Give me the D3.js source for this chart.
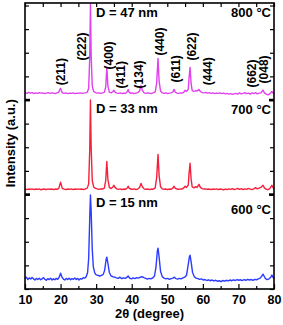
<!DOCTYPE html>
<html>
<head>
<meta charset="utf-8">
<script src="https://cdn.jsdelivr.net/npm/d3@7"></script>
<style>
  body { margin: 0; background: #fff; }
  text { font-family: "Liberation Sans", Arial, sans-serif; font-weight: bold; }
</style>
</head>
<body>
<div class="vis-holder"></div>
<script>
const width = 283;
const height = 325;

// 2theta (degree) vs intensity (a.u.) above the bottom of each panel
const xrd600 = [[10,44],[10.4,50],[10.8,40],[11.2,47],[11.6,42],[12,49],[12.4,43],[12.8,38],[13.2,45],[13.6,40],[14,46],[14.4,39],[14.8,43],[15.2,48],[15.6,41],[16,37],[16.4,44],[16.8,40],[17.2,46],[17.6,38],[18,43],[18.4,39],[18.8,45],[19.2,41],[19.6,50],[20,67],[20.4,50],[20.8,42],[21.2,38],[21.6,45],[22,40],[22.4,46],[22.8,39],[23.2,44],[23.6,41],[24,47],[24.4,40],[24.8,45],[25.2,38],[25.6,44],[26,42],[26.4,48],[26.8,46],[27.2,52],[27.6,70],[27.9,130],[28.2,300],[28.4,398],[28.6,330],[28.9,170],[29.2,95],[29.6,68],[30,60],[30.5,58],[31,55],[31.5,58],[32,62],[32.4,80],[32.8,125],[33,135],[33.3,110],[33.7,70],[34.2,55],[34.7,52],[35.2,50],[35.7,47],[36.2,45],[36.7,50],[37.2,44],[37.7,47],[38.2,45],[38.7,50],[39,55],[39.4,46],[39.9,43],[40.4,47],[40.9,44],[41.4,48],[41.9,46],[42.4,50],[42.9,52],[43.4,48],[43.9,45],[44.4,42],[44.9,45],[45.4,43],[45.9,47],[46.4,55],[46.8,90],[47.2,160],[47.4,173],[47.7,135],[48.1,75],[48.6,52],[49.1,46],[49.6,43],[50.1,45],[50.6,41],[51.1,44],[51.6,46],[52,50],[52.4,44],[52.9,42],[53.4,45],[53.9,43],[54.4,47],[54.9,50],[55.4,58],[55.8,95],[56.2,135],[56.4,143],[56.7,115],[57.1,70],[57.6,52],[58.1,46],[58.6,44],[59.1,41],[59.6,43],[60.1,38],[60.6,40],[61.1,36],[61.6,39],[62.1,35],[62.6,38],[63.1,34],[63.6,37],[64.1,33],[64.6,35],[65.1,31],[65.6,36],[66.1,33],[66.6,37],[67.1,34],[67.6,38],[68.1,35],[68.6,39],[69.1,36],[69.6,40],[70.1,37],[70.6,39],[71.1,36],[71.6,40],[72.1,37],[72.6,41],[73.1,38],[73.6,40],[74.1,37],[74.6,41],[75.1,39],[75.6,43],[76.1,46],[76.6,55],[76.9,63],[77.2,55],[77.6,44],[78.1,40],[78.6,43],[79.1,50],[79.4,59],[79.7,50],[80,45]];

const xrd700 = [[10,24],[10.5,21],[11,23],[11.5,22],[12,24],[12.5,21],[13,23],[13.5,22],[14,24],[14.5,20],[15,23],[15.5,22],[16,21],[16.5,24],[17,22],[17.5,23],[18,21],[18.5,23],[19,22],[19.5,26],[19.8,42],[20,52],[20.2,40],[20.5,26],[21,23],[21.5,21],[22,23],[22.5,22],[23,24],[23.5,21],[24,23],[24.5,22],[25,24],[25.5,22],[26,23],[26.5,21],[27,24],[27.5,27],[27.9,45],[28.2,190],[28.4,400],[28.6,200],[28.9,60],[29.3,32],[29.8,26],[30.3,24],[30.8,22],[31.3,24],[31.8,23],[32.3,27],[32.7,60],[33,140],[33.3,65],[33.7,30],[34.2,25],[34.7,32],[35,39],[35.3,30],[35.8,24],[36.3,22],[36.8,24],[37.3,21],[37.8,23],[38.3,22],[38.8,29],[39,35],[39.2,28],[39.7,23],[40.2,22],[40.7,24],[41.2,21],[41.7,23],[42.2,30],[42.6,47],[43,33],[43.5,24],[44,22],[44.5,23],[45,21],[45.5,23],[46,22],[46.6,28],[47,70],[47.4,170],[47.7,80],[48.1,33],[48.6,24],[49.1,22],[49.6,23],[50.1,21],[50.6,23],[51.1,22],[51.6,28],[51.9,35],[52.2,27],[52.7,23],[53.2,22],[53.7,24],[54.2,23],[54.7,29],[55,35],[55.4,30],[55.9,40],[56.1,85],[56.4,132],[56.7,65],[57,32],[57.5,28],[58,33],[58.4,30],[58.9,43],[59.3,30],[59.8,25],[60.3,23],[60.8,24],[61.3,22],[61.8,23],[62.3,21],[62.8,23],[63.3,22],[63.8,24],[64.3,21],[64.8,23],[65.3,22],[65.8,20],[66.3,23],[66.8,21],[67.3,24],[67.8,22],[68.3,25],[68.8,21],[69.3,23],[69.8,26],[70.3,22],[70.8,25],[71.3,21],[71.8,24],[72.3,22],[72.8,26],[73.3,23],[73.8,21],[74.3,24],[74.8,29],[75.3,24],[75.8,27],[76.3,30],[76.9,39],[77.3,28],[77.8,23],[78.3,20],[78.8,25],[79.4,39],[79.7,30],[80,24]];

const xrd800 = [[10,31],[10.5,28],[11,32],[11.5,29],[12,31],[12.5,27],[13,30],[13.5,28],[14,31],[14.5,29],[15,30],[15.5,27],[16,29],[16.5,31],[17,28],[17.5,30],[18,29],[18.5,27],[19,30],[19.5,33],[19.8,45],[20,49],[20.2,40],[20.5,30],[21,28],[21.5,30],[22,27],[22.5,29],[23,28],[23.5,30],[24,27],[24.5,29],[25,28],[25.5,30],[26,28],[26.5,29],[27,30],[27.5,33],[27.9,50],[28.2,180],[28.4,405],[28.6,190],[28.9,60],[29.3,36],[29.8,31],[30.3,29],[30.8,30],[31.3,28],[31.8,30],[32.3,32],[32.7,55],[33,138],[33.3,60],[33.7,33],[34.2,30],[34.7,36],[35,41],[35.3,33],[35.8,29],[36.3,28],[36.8,30],[37.3,27],[37.8,29],[38.3,28],[38.8,36],[39,45],[39.2,35],[39.7,28],[40.2,30],[40.7,27],[41.2,29],[41.7,31],[42.2,38],[42.6,62],[43,40],[43.5,30],[44,28],[44.5,30],[45,29],[45.5,27],[46,30],[46.6,34],[47,70],[47.4,176],[47.7,80],[48.1,38],[48.6,30],[49.1,28],[49.6,30],[50.1,27],[50.6,29],[51.1,30],[51.6,35],[51.9,45],[52.2,34],[52.7,29],[53.2,28],[53.7,30],[54.2,29],[54.7,34],[55,41],[55.4,36],[55.9,45],[56.1,90],[56.4,138],[56.7,70],[57,40],[57.5,36],[58,40],[58.4,38],[58.9,45],[59.3,36],[59.8,31],[60.3,30],[60.8,32],[61.3,29],[61.8,31],[62.3,28],[62.8,30],[63.3,27],[63.8,29],[64.3,28],[64.8,30],[65.3,27],[65.8,29],[66.3,26],[66.8,28],[67.3,25],[67.8,27],[68.3,24],[68.8,26],[69.3,28],[69.8,25],[70.3,30],[70.8,26],[71.3,28],[71.8,31],[72.3,27],[72.8,29],[73.3,25],[73.8,30],[74.3,27],[74.8,31],[75.3,26],[75.8,29],[76.3,30],[76.9,42],[77.3,30],[77.8,25],[78.3,22],[78.8,26],[79.4,36],[79.7,30],[80,26]];

const temps = ["600 °C", "700 °C", "800 °C"];
const sizes = ["D = 15 nm", "D = 33 nm", "D = 47 nm"];
const colors = ["#2b3bff", "#f5203c", "#e040ee"];

// Miller indices on the 800 °C pattern: label, 2theta, height where the label starts
const hklLabels = ["(211)", "(222)", "(400)", "(411)", "(134)", "(440)", "(611)", "(622)", "(444)", "(662)", "(048)"];
const hklPos = [19.9, 25.8, 33.4, 36.9, 42.1, 48.0, 52.5, 56.8, 61.3, 73.7, 77.0];
const hklHeight = [62, 167, 129, 49, 49, 188, 74, 167, 62, 53, 70];

const xTicks = [10, 20, 30, 40, 50, 60, 70, 80];
const xMinor = [15, 25, 35, 45, 55, 65, 75];

const panel = 400;
const series = [xrd600, xrd700, xrd800];

const margin = {left: 25, right: 9, top: 5.5, bottom: 36};

const svg = d3.select(".vis-holder").append("svg")
    .attr("width", width)
    .attr("height", height);

const x = d3.scaleLinear().domain([10, 80]).range([margin.left, width - margin.right]);
const y = d3.scaleLinear().domain([0, panel * 3]).range([height - margin.bottom, margin.top]);

const line = d3.line()
    .x(d => x(d[0]))
    .y(d => y(d[1]));

series.forEach(function(data, i) {
    svg.append("path")
        .datum(data.map(d => [d[0], d[1] + i * panel]))
        .attr("d", line)
        .attr("fill", "none")
        .attr("stroke", colors[i])
        .attr("stroke-width", 1.4)
        .attr("stroke-linejoin", "round");
});

// axes, ticks pointing inwards
const x0 = x.range()[0], x1 = x.range()[1];
const y0 = y.range()[0], y1 = y.range()[1];

const bottom = svg.append("g")
    .attr("transform", `translate(0,${y0})`)
    .call(d3.axisBottom(x).tickValues(xTicks).tickSize(-5).tickPadding(6));
svg.append("g")
    .attr("transform", `translate(0,${y0})`)
    .call(d3.axisBottom(x).tickValues(xMinor).tickSize(-3).tickFormat(""));
svg.append("g")
    .attr("transform", `translate(0,${y1 - 2.5})`)
    .call(d3.axisTop(x).tickValues(xTicks.concat(xMinor)).tickSize(-4).tickFormat(""));
svg.append("g")
    .attr("transform", `translate(${x0},0)`)
    .call(d3.axisLeft(y).ticks(12).tickSize(-4).tickFormat(""));
svg.append("g")
    .attr("transform", `translate(${x1},0)`)
    .call(d3.axisRight(y).ticks(12).tickSize(-4).tickFormat(""));

svg.selectAll(".domain").remove();
svg.selectAll(".tick line").attr("stroke", "#000").attr("stroke-width", 1.2);
bottom.selectAll("text")
    .attr("font-size", 12.5)
    .attr("font-family", "Liberation Sans, Arial, sans-serif")
    .attr("font-weight", "bold")
    .attr("fill", "#000");

// panel separators
[panel, panel * 2].forEach(function(v) {
    svg.append("rect").attr("x", x0).attr("y", y(v) - 1.2).attr("width", 5).attr("height", 2.6);
    svg.append("rect").attr("x", x1 - 5).attr("y", y(v) - 1.2).attr("width", 5).attr("height", 2.6);
});

svg.append("rect")
    .attr("x", x0)
    .attr("y", y1 - 2.5)
    .attr("width", x1 - x0)
    .attr("height", y0 - y1 + 2.5)
    .attr("fill", "none")
    .attr("stroke", "#000")
    .attr("stroke-width", 1.6);

// panel labels
const sizeDy = [12, 12.5, 11.5];
const tempDy = [19, 13.5, 11.5];
[0, 1, 2].forEach(function(i) {
    const top = y((i + 1) * panel);
    svg.append("text")
        .attr("x", 96)
        .attr("y", top + sizeDy[i])
        .attr("font-size", 13)
        .text(sizes[i]);
    svg.append("text")
        .attr("x", x1 - 3)
        .attr("y", top + tempDy[i])
        .attr("text-anchor", "end")
        .attr("font-size", 13)
        .text(temps[i]);
});

hklLabels.forEach(function(lab, i) {
    svg.append("text")
        .attr("transform", `translate(${x(hklPos[i]) + 4.3},${y(2 * panel + hklHeight[i])}) rotate(-90)`)
        .attr("font-size", 12)
        .text(lab);
});

svg.append("text")
    .attr("transform", `translate(15,${(y0 + y1) / 2 - 4}) rotate(-90)`)
    .attr("text-anchor", "middle")
    .attr("font-size", 13)
    .text("Intensity (a.u.)");

svg.append("text")
    .attr("x", (x0 + x1) / 2)
    .attr("y", 318)
    .attr("text-anchor", "middle")
    .attr("font-size", 13)
    .text("2θ (degree)");
</script>
</body>
</html>
